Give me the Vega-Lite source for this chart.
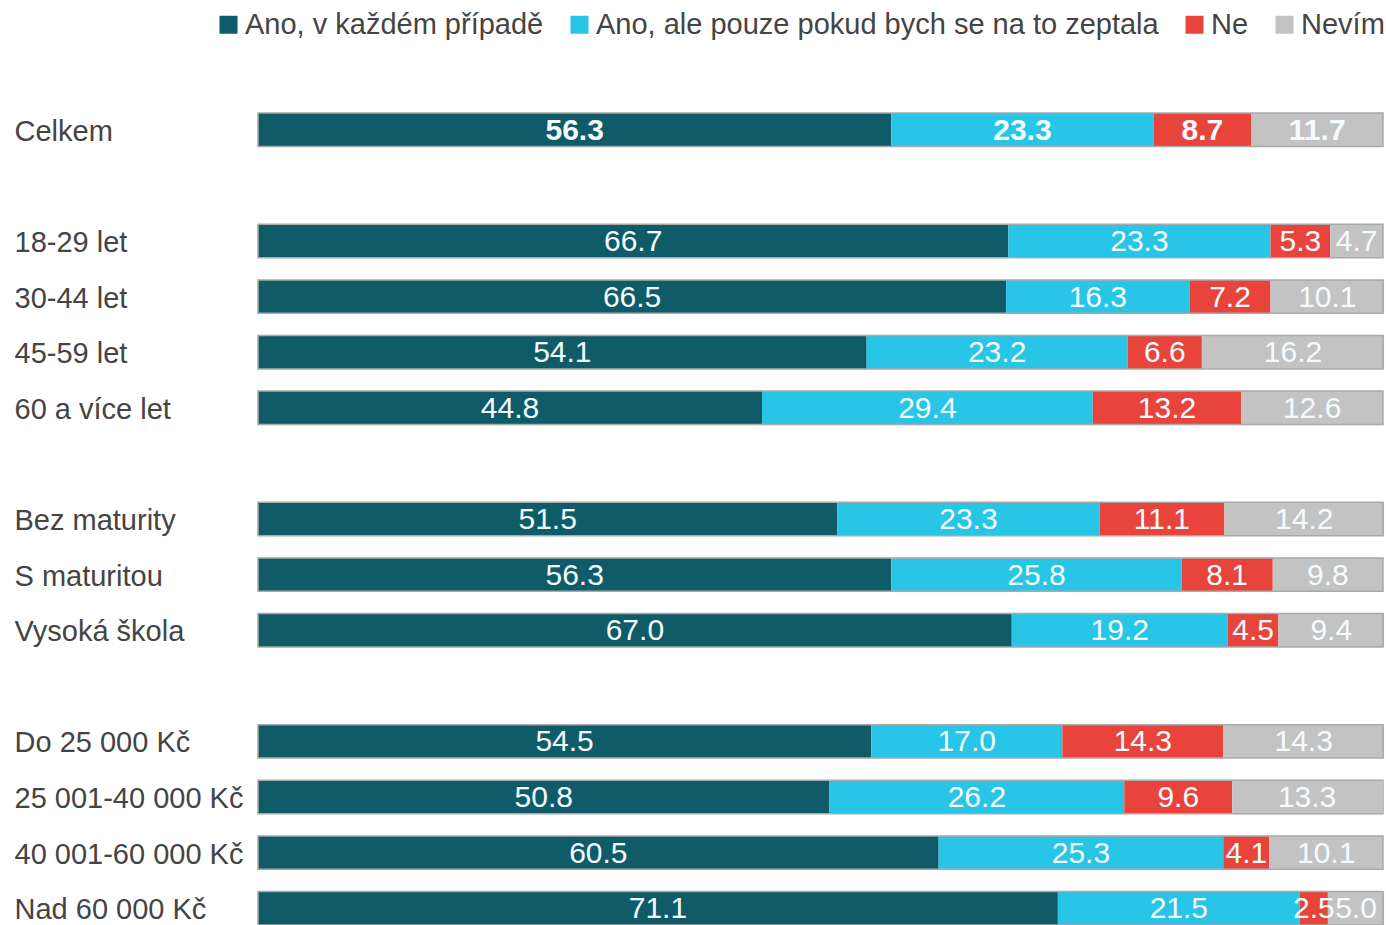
{
  "$schema": "https://vega.github.io/schema/vega-lite/v6.json",
  "width": 1125,
  "height": 834,
  "autosize": {"type": "none"},
  "padding": {"left": 258, "top": 102, "right": 3, "bottom": 0},
  "background": "white",
  "config": {
    "view": {"stroke": null},
    "font": "Liberation Sans",
    "legend": {
      "orient": "none",
      "legendX": -44,
      "legendY": -92,
      "direction": "horizontal",
      "symbolType": "square",
      "symbolSize": 324,
      "symbolStrokeWidth": 0,
      "labelFontSize": 29,
      "labelColor": "#444444",
      "labelOffset": 2,
      "columnPadding": 21,
      "labelLimit": 0
    }
  },
  "data": {
    "values": [
      {"g": "Celkem", "s": "Ano, v každém případě", "o": 1, "v": 56.3},
      {"g": "Celkem", "s": "Ano, ale pouze pokud bych se na to zeptala", "o": 2, "v": 23.3},
      {"g": "Celkem", "s": "Ne", "o": 3, "v": 8.7},
      {"g": "Celkem", "s": "Nevím", "o": 4, "v": 11.7},
      {"g": "18-29 let", "s": "Ano, v každém případě", "o": 1, "v": 66.7},
      {"g": "18-29 let", "s": "Ano, ale pouze pokud bych se na to zeptala", "o": 2, "v": 23.3},
      {"g": "18-29 let", "s": "Ne", "o": 3, "v": 5.3},
      {"g": "18-29 let", "s": "Nevím", "o": 4, "v": 4.7},
      {"g": "30-44 let", "s": "Ano, v každém případě", "o": 1, "v": 66.5},
      {"g": "30-44 let", "s": "Ano, ale pouze pokud bych se na to zeptala", "o": 2, "v": 16.3},
      {"g": "30-44 let", "s": "Ne", "o": 3, "v": 7.2},
      {"g": "30-44 let", "s": "Nevím", "o": 4, "v": 10.1},
      {"g": "45-59 let", "s": "Ano, v každém případě", "o": 1, "v": 54.1},
      {"g": "45-59 let", "s": "Ano, ale pouze pokud bych se na to zeptala", "o": 2, "v": 23.2},
      {"g": "45-59 let", "s": "Ne", "o": 3, "v": 6.6},
      {"g": "45-59 let", "s": "Nevím", "o": 4, "v": 16.2},
      {"g": "60 a více let", "s": "Ano, v každém případě", "o": 1, "v": 44.8},
      {"g": "60 a více let", "s": "Ano, ale pouze pokud bych se na to zeptala", "o": 2, "v": 29.4},
      {"g": "60 a více let", "s": "Ne", "o": 3, "v": 13.2},
      {"g": "60 a více let", "s": "Nevím", "o": 4, "v": 12.6},
      {"g": "Bez maturity", "s": "Ano, v každém případě", "o": 1, "v": 51.5},
      {"g": "Bez maturity", "s": "Ano, ale pouze pokud bych se na to zeptala", "o": 2, "v": 23.3},
      {"g": "Bez maturity", "s": "Ne", "o": 3, "v": 11.1},
      {"g": "Bez maturity", "s": "Nevím", "o": 4, "v": 14.2},
      {"g": "S maturitou", "s": "Ano, v každém případě", "o": 1, "v": 56.3},
      {"g": "S maturitou", "s": "Ano, ale pouze pokud bych se na to zeptala", "o": 2, "v": 25.8},
      {"g": "S maturitou", "s": "Ne", "o": 3, "v": 8.1},
      {"g": "S maturitou", "s": "Nevím", "o": 4, "v": 9.8},
      {"g": "Vysoká škola", "s": "Ano, v každém případě", "o": 1, "v": 67.0},
      {"g": "Vysoká škola", "s": "Ano, ale pouze pokud bych se na to zeptala", "o": 2, "v": 19.2},
      {"g": "Vysoká škola", "s": "Ne", "o": 3, "v": 4.5},
      {"g": "Vysoká škola", "s": "Nevím", "o": 4, "v": 9.4},
      {"g": "Do 25 000 Kč", "s": "Ano, v každém případě", "o": 1, "v": 54.5},
      {"g": "Do 25 000 Kč", "s": "Ano, ale pouze pokud bych se na to zeptala", "o": 2, "v": 17.0},
      {"g": "Do 25 000 Kč", "s": "Ne", "o": 3, "v": 14.3},
      {"g": "Do 25 000 Kč", "s": "Nevím", "o": 4, "v": 14.3},
      {"g": "25 001-40 000 Kč", "s": "Ano, v každém případě", "o": 1, "v": 50.8},
      {"g": "25 001-40 000 Kč", "s": "Ano, ale pouze pokud bych se na to zeptala", "o": 2, "v": 26.2},
      {"g": "25 001-40 000 Kč", "s": "Ne", "o": 3, "v": 9.6},
      {"g": "25 001-40 000 Kč", "s": "Nevím", "o": 4, "v": 13.3},
      {"g": "40 001-60 000 Kč", "s": "Ano, v každém případě", "o": 1, "v": 60.5},
      {"g": "40 001-60 000 Kč", "s": "Ano, ale pouze pokud bych se na to zeptala", "o": 2, "v": 25.3},
      {"g": "40 001-60 000 Kč", "s": "Ne", "o": 3, "v": 4.1},
      {"g": "40 001-60 000 Kč", "s": "Nevím", "o": 4, "v": 10.1},
      {"g": "Nad 60 000 Kč", "s": "Ano, v každém případě", "o": 1, "v": 71.1},
      {"g": "Nad 60 000 Kč", "s": "Ano, ale pouze pokud bych se na to zeptala", "o": 2, "v": 21.5},
      {"g": "Nad 60 000 Kč", "s": "Ne", "o": 3, "v": 2.5},
      {"g": "Nad 60 000 Kč", "s": "Nevím", "o": 4, "v": 5.0}
    ]
  },
  "encoding": {
    "y": {
      "field": "g",
      "type": "nominal",
      "scale": {
        "domain": ["Celkem", " ", "18-29 let", "30-44 let", "45-59 let", "60 a více let", "  ", "Bez maturity", "S maturitou", "Vysoká škola", "   ", "Do 25 000 Kč", "25 001-40 000 Kč", "40 001-60 000 Kč", "Nad 60 000 Kč"],
        "paddingInner": 0.4,
        "paddingOuter": 0.2
      },
      "axis": {
        "title": null,
        "domain": false,
        "ticks": false,
        "tickSize": 0,
        "labelAlign": "left",
        "labelBaseline": "middle",
        "labelPadding": 244,
        "labelOffset": 2,
        "labelFontSize": 29,
        "labelColor": "#444444",
        "labelLimit": 0
      }
    }
  },
  "layer": [
    {
      "mark": {"type": "bar"},
      "encoding": {
        "x": {"field": "v", "type": "quantitative", "stack": "zero", "scale": {"domain": [0, 100]}, "axis": null},
        "order": {"field": "o", "type": "quantitative"},
        "color": {
          "field": "s",
          "type": "nominal",
          "title": null,
          "sort": ["Ano, v každém případě", "Ano, ale pouze pokud bych se na to zeptala", "Ne", "Nevím"],
          "scale": {
            "domain": ["Ano, v každém případě", "Ano, ale pouze pokud bych se na to zeptala", "Ne", "Nevím"],
            "range": ["#0f5b68", "#29c5e6", "#e9443b", "#c3c3c3"]
          }
        }
      }
    },
    {
      "transform": [{"filter": "datum.s === 'Nevím'"}],
      "mark": {"type": "bar", "filled": false, "color": "#a9a9a9", "strokeWidth": 1.5},
      "encoding": {
        "x": {"datum": 0, "type": "quantitative"},
        "x2": {"datum": 100}
      }
    },
    {
      "transform": [{"filter": "datum.g !== 'Celkem'"}],
      "mark": {"type": "text", "fontSize": 30, "color": "#f3fbff", "baseline": "middle", "align": "center", "dy": 1},
      "encoding": {
        "x": {"field": "v", "type": "quantitative", "stack": "zero", "bandPosition": 0.5},
        "order": {"field": "o", "type": "quantitative"},
        "detail": {"field": "s"},
        "text": {"field": "v", "type": "quantitative", "format": ".1f"}
      }
    },
    {
      "transform": [{"filter": "datum.g === 'Celkem'"}],
      "mark": {"type": "text", "fontSize": 30, "fontWeight": "bold", "color": "#f3fbff", "baseline": "middle", "align": "center", "dy": 1},
      "encoding": {
        "x": {"field": "v", "type": "quantitative", "stack": "zero", "bandPosition": 0.5},
        "order": {"field": "o", "type": "quantitative"},
        "detail": {"field": "s"},
        "text": {"field": "v", "type": "quantitative", "format": ".1f"}
      }
    }
  ]
}
